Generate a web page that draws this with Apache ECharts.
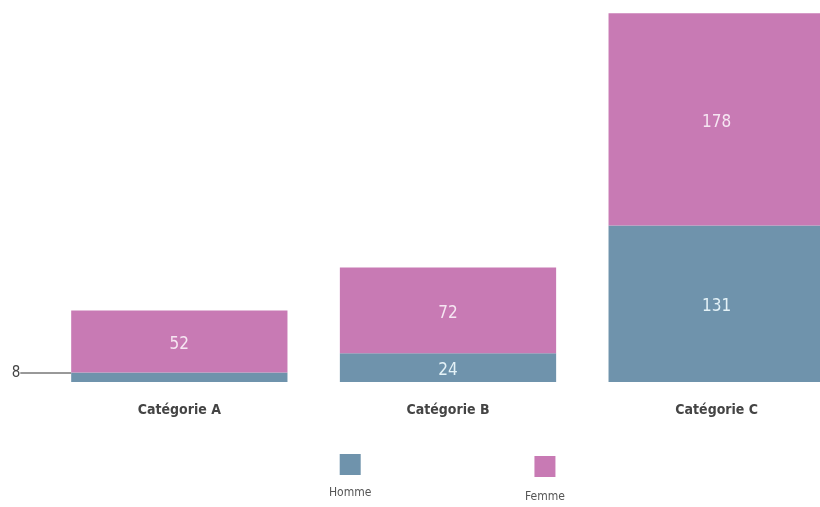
<!DOCTYPE html>
<html>
<head>
<meta charset="utf-8">
<script src="https://cdn.jsdelivr.net/npm/echarts@6/dist/echarts.min.js"></script>
<style>
  html, body { margin: 0; padding: 0; background: #fff; }
  #chart { width: 820px; height: 507px; }
</style>
</head>
<body>
<div id="chart"></div>
<script>
  const categories = ['Catégorie A', 'Catégorie B', 'Catégorie C'];
  const hommeValues = [8, 24, 131];
  const femmeValues = [52, 72, 178];
  const seriesNames = ['Homme', 'Femme'];

  const BLUE = '#6f93ac';
  const PINK = '#c87ab4';
  const NARROW = "'Liberation Sans Narrow', 'DejaVu Sans Condensed', sans-serif";

  const chart = echarts.init(document.getElementById('chart'));

  // the small value (8) is pulled out to the left with a guide line
  const hommeData = hommeValues.map((v, i) => {
    if (v < 15) {
      return {
        value: v,
        label: { position: 'left', color: '#444', fontSize: 15 },
        labelLine: { show: true, lineStyle: { color: '#333', width: 1 } }
      };
    }
    return v;
  });

  // legend: coloured square on top, name underneath (rich text)
  function legendRich(color, gap) {
    return {
      rich: {
        box: { backgroundColor: color, width: 21, height: 21, align: 'center' },
        name: { color: '#555', fontSize: 12, fontFamily: 'DejaVu Sans Condensed', align: 'center', padding: [gap, 0, 0, 0] }
      }
    };
  }
  const legendFmt = name => '{box|}\n{name|' + name + '}';

  const option = {
    animation: false,
    grid: { left: 45, width: 806, top: 0, height: 382, outerBoundsMode: 'none' },
    legend: [
      { data: [seriesNames[0]], left: 319, top: 449, itemWidth: 0, itemHeight: 0, formatter: legendFmt, textStyle: legendRich(BLUE, 12) },
      { data: [seriesNames[1]], left: 515, top: 451, itemWidth: 0, itemHeight: 0, formatter: legendFmt, textStyle: legendRich(PINK, 14) }
    ],
    xAxis: {
      type: 'category',
      data: categories,
      axisLine: { show: false },
      axisTick: { show: false },
      axisLabel: { margin: 21, color: '#444', fontSize: 14, fontWeight: 'bold', fontFamily: NARROW }
    },
    yAxis: {
      type: 'value',
      min: 0,
      max: 320,
      show: false,
      splitLine: { show: false }
    },
    series: [
      {
        name: seriesNames[0],
        type: 'bar',
        stack: 'total',
        barCategoryGap: '19.5%',
        itemStyle: { color: BLUE },
        label: { show: true, position: 'inside', color: '#e4f2f7', fontSize: 17, fontFamily: NARROW },
        labelLayout: function (params) {
          if (params.dataIndex === 0) {
            return { x: 16, y: 373, align: 'center', verticalAlign: 'middle' };
          }
          return { dy: 3 };
        },
        labelLine: { show: false },
        data: hommeData
      },
      {
        name: seriesNames[1],
        type: 'bar',
        stack: 'total',
        itemStyle: { color: PINK },
        label: { show: true, position: 'inside', offset: [0, 3], color: '#f6e6f2', fontSize: 17, fontFamily: NARROW },
        data: femmeValues
      }
    ]
  };

  chart.setOption(option);
</script>
</body>
</html>
